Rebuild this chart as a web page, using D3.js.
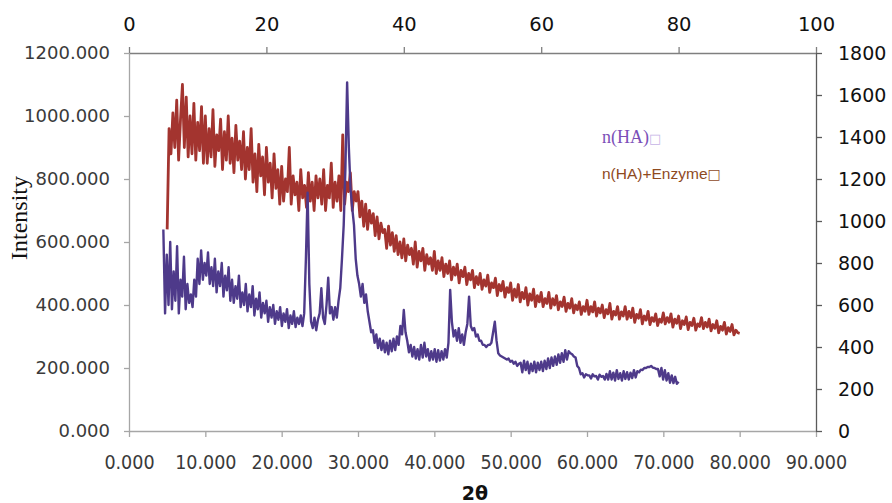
<!DOCTYPE html>
<html>
<head>
<meta charset="utf-8">
<script src="https://cdn.jsdelivr.net/npm/d3@7/dist/d3.min.js"></script>
<style>
  html, body { margin: 0; padding: 0; background: #ffffff; }
  svg { display: block; }
</style>
</head>
<body>
<svg id="chart" width="892" height="503"></svg>
<script>
// ---------------- DATA ----------------
// 2θ sampling of both scans (degrees)
const twoThetaStart = 5;
const twoThetaStep = 0.25;

// n(HA)+Enzyme  (primary axes: bottom 2θ 0–90, left intensity 0–1200)
const haEnzymeIntensity = [
  640, 960, 880, 1010, 900, 1050, 860, 990, 1100, 900, 1060, 870, 1000, 880, 1040, 860, 980, 890, 1030, 850,
  1000, 850, 960, 870, 1020, 840, 940, 890, 990, 830, 950, 860, 1000, 850, 930, 820, 970, 860, 920, 830,
  950, 800, 900, 830, 960, 790, 880, 760, 910, 810, 870, 750, 900, 790, 850, 740, 880, 770, 830, 720,
  840, 730, 800, 760, 900, 720, 810, 750, 790, 700, 830, 740, 780, 710, 820, 730, 790, 700, 810, 740,
  800, 720, 830, 700, 780, 740, 850, 710, 790, 730, 810, 700, 940, 720, 790, 760, 820, 700, 760, 730,
  760, 680, 730, 650, 720, 640, 700, 660, 690, 620, 680, 610, 660, 630, 640, 580, 650, 590, 630, 570,
  620, 560, 600, 550, 610, 540, 590, 560, 580, 530, 600, 520, 570, 540, 580, 510, 560, 530, 550, 510,
  570, 500, 540, 510, 550, 490, 530, 500, 540, 480, 520, 495, 530, 470, 510, 490, 520, 465, 500, 480,
  510, 455, 490, 465, 500, 450, 480, 460, 495, 440, 470, 455, 485, 430, 465, 445, 475, 425, 455, 440,
  470, 415, 450, 425, 465, 410, 440, 420, 455, 400, 435, 415, 450, 395, 430, 410, 440, 395, 420, 405,
  440, 390, 420, 400, 430, 385, 410, 395, 425, 380, 405, 390, 420, 375, 400, 385, 410, 370, 395, 380,
  415, 370, 395, 378, 410, 365, 390, 375, 400, 360, 385, 372, 405, 355, 380, 368, 395, 355, 378, 365,
  395, 355, 380, 360, 390, 345, 370, 358, 385, 340, 365, 352, 380, 338, 360, 348, 372, 335, 355, 345,
  375, 340, 360, 345, 372, 330, 355, 342, 365, 325, 350, 338, 362, 322, 345, 335, 358, 320, 340, 332,
  360, 325, 345, 330, 355, 318, 338, 326, 350, 312, 332, 320, 345, 308, 328, 316, 338, 305, 320, 312,
  310
];

// n(HA)  (secondary axes: top 2θ 0–100, right intensity 0–1800)
const haIntensity = [
  960, 560, 840, 600, 900, 580, 760, 620, 880, 560, 720, 640, 830, 580, 700, 610, 650, 590, 720, 640,
  820, 700, 860, 720, 800, 740, 850, 700, 780, 690, 820, 660, 760, 690, 800, 640, 740, 670, 780, 620,
  720, 610, 690, 630, 740, 590, 660, 600, 700, 570, 650, 590, 690, 550, 630, 580, 660, 540, 610, 560,
  620, 520, 590, 540, 600, 510, 570, 530, 590, 500, 560, 520, 580, 490, 550, 510, 570, 495, 540, 510,
  550, 500, 560, 820, 1135, 700, 520, 490, 540, 480, 530, 560, 680, 540, 510, 600, 730, 560, 590, 530,
  590, 540, 620, 680, 820, 980, 1250, 1660, 1350, 1150, 1060, 980, 820, 740, 700, 640, 700, 610, 650, 570,
  520, 470, 480, 420, 460, 395, 440, 385, 430, 375, 420, 365, 430, 380, 440, 385, 450, 410, 500, 460,
  576, 470, 430, 375, 410, 355, 400, 345, 390, 340, 410, 350, 420, 355, 390, 335, 380, 340, 390, 330,
  385, 335, 380, 340, 390, 350, 420, 672, 520, 450, 480, 430, 490, 420, 460, 410, 470, 510, 640, 500,
  480, 490, 450, 460, 430, 430, 410, 410, 400, 410, 410, 420, 470, 520, 430, 370, 360, 355, 350, 345,
  340, 345, 330, 335, 320, 330, 310, 320, 325, 280, 335, 290, 330, 275, 320, 285, 330, 280, 325, 290,
  330, 285, 335, 295, 345, 300, 350, 310, 355, 315, 365, 325, 370, 330, 385, 340, 380, 370, 365, 355,
  350, 310, 300, 270, 275, 255, 270, 265, 265, 250, 270, 260, 262, 245, 268, 258, 262, 245, 272, 245,
  285, 245, 278, 240, 290, 248, 275, 240, 285, 248, 280, 245, 278, 252, 290, 255, 285, 280, 292, 290,
  300, 300, 305, 305, 310, 302, 300, 295, 295, 260, 300, 245, 290, 240, 275, 230, 265, 228, 258, 225,
  235
];

const bottomTicks = [0, 10, 20, 30, 40, 50, 60, 70, 80, 90];
const topTicks = [0, 20, 40, 60, 80, 100];
const leftTicks = [0, 200, 400, 600, 800, 1000, 1200];
const rightTicks = [0, 200, 400, 600, 800, 1000, 1200, 1400, 1600, 1800];

const seriesNames = ["n(HA)", "n(HA)+Enzyme"];
const xTitle = "2θ";
const yTitle = "Intensity";

// ---------------- CHART ----------------
const svg = d3.select("#chart");
const plot = { left: 129, right: 816, top: 53, bottom: 431 };

const xBottom = d3.scaleLinear().domain([0, 90]).range([plot.left, plot.right]);
const xTop = d3.scaleLinear().domain([0, 100]).range([plot.left, plot.right]);
const yLeft = d3.scaleLinear().domain([0, 1200]).range([plot.bottom, plot.top]);
const yRight = d3.scaleLinear().domain([0, 1800]).range([plot.bottom, plot.top]);

const tt = i => twoThetaStart + i * twoThetaStep;

function styleAxis(g, lineColor, textColor, fontSize, family) {
  g.select(".domain").attr("stroke", lineColor).attr("stroke-width", 1.3);
  g.selectAll(".tick line").attr("stroke", lineColor).attr("stroke-width", 1.3);
  g.selectAll(".tick text").attr("fill", textColor)
    .style("font-family", family).style("font-size", fontSize + "px");
}

// bottom axis
const gB = svg.append("g").attr("transform", `translate(0,${plot.bottom})`)
  .call(d3.axisBottom(xBottom).tickValues(bottomTicks).tickFormat(d3.format(".3f"))
    .tickSizeInner(6).tickSizeOuter(0).tickPadding(18));
styleAxis(gB, "#a6a6a6", "#3a3a3a", 19.5, "'DejaVu Sans Condensed','DejaVu Sans',sans-serif");

// left axis
const gL = svg.append("g").attr("transform", `translate(${plot.left},0)`)
  .call(d3.axisLeft(yLeft).tickValues(leftTicks).tickFormat(d3.format(".3f"))
    .tickSizeInner(5).tickSizeOuter(0).tickPadding(14));
styleAxis(gL, "#a6a6a6", "#3a3a3a", 18, "'DejaVu Sans',sans-serif");

// top axis
const gT = svg.append("g").attr("transform", `translate(0,${plot.top})`)
  .call(d3.axisTop(xTop).tickValues(topTicks).tickFormat(d3.format("d"))
    .tickSizeInner(6).tickSizeOuter(0).tickPadding(16));
styleAxis(gT, "#7f7f7f", "#111111", 19.5, "'DejaVu Sans',sans-serif");

// right axis
const gR = svg.append("g").attr("transform", `translate(${plot.right},0)`)
  .call(d3.axisRight(yRight).tickValues(rightTicks).tickFormat(d3.format("d"))
    .tickSizeInner(6).tickSizeOuter(0).tickPadding(16));
styleAxis(gR, "#5a5a5a", "#111111", 19, "'DejaVu Sans',sans-serif");

// lines
const lineEnzyme = d3.line().x((d, i) => xBottom(tt(i))).y(d => yLeft(d));
const lineHA = d3.line().x((d, i) => xTop(tt(i))).y(d => yRight(d));

svg.append("path").datum(haEnzymeIntensity)
  .attr("d", lineEnzyme).attr("fill", "none")
  .attr("stroke", "#a3342f").attr("stroke-width", 2.8).attr("stroke-linejoin", "round");

svg.append("path").datum(haIntensity)
  .attr("d", lineHA).attr("fill", "none")
  .attr("stroke", "#4e3a8a").attr("stroke-width", 2.4).attr("stroke-linejoin", "round");

// legend labels
const leg1 = svg.append("text").attr("x", 602).attr("y", 143)
  .style("font-family", "'Liberation Serif','Times New Roman',serif").style("font-size", "18px")
  .attr("fill", "#7b4fb8");
leg1.append("tspan").text(seriesNames[0]);
leg1.append("tspan").text("\u25A1").attr("fill", "#c6b4e6")
  .style("font-family", "'DejaVu Sans',sans-serif").style("font-size", "13px");

const leg2 = svg.append("text").attr("x", 602).attr("y", 179)
  .style("font-family", "'Liberation Sans',Arial,sans-serif").style("font-size", "15.5px")
  .attr("fill", "#8f4a1f");
leg2.append("tspan").text(seriesNames[1]);
leg2.append("tspan").text("\u25A1")
  .style("font-family", "'DejaVu Sans',sans-serif").style("font-size", "14px");

// axis titles
svg.append("text").attr("transform", "translate(27,218) rotate(-90)")
  .attr("text-anchor", "middle")
  .style("font-family", "'Liberation Serif','Times New Roman',serif").style("font-size", "24px")
  .attr("fill", "#111").text(yTitle);

svg.append("text").attr("x", 475).attr("y", 500).attr("text-anchor", "middle")
  .style("font-family", "'DejaVu Sans',sans-serif").style("font-weight", "bold").style("font-size", "19px")
  .attr("fill", "#111").text(xTitle);
</script>
</body>
</html>
